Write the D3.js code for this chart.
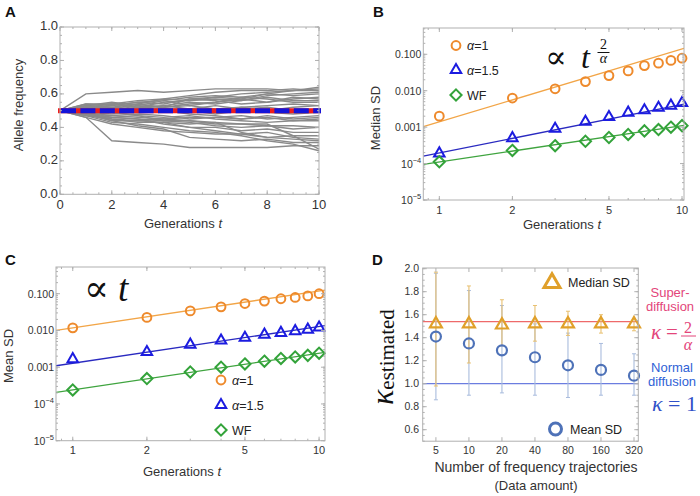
<!DOCTYPE html>
<html><head><meta charset="utf-8">
<script src="https://cdn.jsdelivr.net/npm/d3@7"></script>
<style>body{margin:0;background:#fff}svg{display:block}</style>
</head><body><svg id="c" width="700" height="496" font-family="Liberation Sans, Arial, sans-serif"></svg>
<script>
// ---------- DATA ----------
const generations = [0,1,2,3,4,5,6,7,8,9,10];
const trajectories = [
 [0.5,0.60,0.61,0.62,0.61,0.62,0.63,0.63,0.63,0.62,0.62],
 [0.5,0.46,0.32,0.31,0.30,0.28,0.28,0.28,0.28,0.29,0.29],
 [0.5,0.54,0.53,0.55,0.56,0.58,0.59,0.58,0.60,0.62,0.64],
 [0.5,0.52,0.51,0.54,0.57,0.56,0.58,0.60,0.61,0.62,0.63],
 [0.5,0.48,0.47,0.46,0.45,0.44,0.42,0.42,0.42,0.35,0.27],
 [0.5,0.47,0.43,0.42,0.40,0.38,0.37,0.35,0.32,0.30,0.26],
 [0.5,0.53,0.54,0.52,0.55,0.56,0.57,0.56,0.59,0.60,0.61],
 [0.5,0.51,0.50,0.53,0.52,0.54,0.55,0.57,0.55,0.57,0.58],
 [0.5,0.49,0.48,0.49,0.50,0.48,0.47,0.45,0.46,0.44,0.45],
 [0.5,0.48,0.46,0.45,0.42,0.40,0.38,0.36,0.37,0.34,0.33],
 [0.5,0.52,0.52,0.51,0.53,0.55,0.54,0.56,0.58,0.56,0.56],
 [0.5,0.49,0.51,0.50,0.52,0.53,0.51,0.52,0.50,0.52,0.53],
 [0.5,0.47,0.45,0.44,0.43,0.42,0.43,0.42,0.41,0.41,0.40],
 [0.5,0.51,0.53,0.55,0.54,0.57,0.58,0.57,0.60,0.59,0.60],
 [0.5,0.48,0.44,0.41,0.39,0.34,0.33,0.32,0.33,0.31,0.31],
 [0.5,0.50,0.49,0.47,0.46,0.47,0.45,0.44,0.43,0.44,0.44],
 [0.5,0.52,0.50,0.51,0.49,0.50,0.48,0.50,0.49,0.48,0.49],
 [0.5,0.49,0.47,0.48,0.47,0.45,0.46,0.47,0.45,0.46,0.47],
 [0.5,0.53,0.55,0.53,0.56,0.53,0.55,0.58,0.57,0.55,0.55],
 [0.5,0.48,0.45,0.43,0.43,0.40,0.40,0.38,0.39,0.37,0.37],
 [0.5,0.46,0.42,0.40,0.38,0.37,0.36,0.36,0.34,0.35,0.35],
 [0.5,0.51,0.50,0.52,0.51,0.51,0.53,0.51,0.52,0.50,0.51],
 [0.5,0.53,0.52,0.54,0.52,0.57,0.56,0.54,0.55,0.58,0.57],
 [0.5,0.49,0.46,0.47,0.44,0.43,0.41,0.40,0.41,0.39,0.40],
 [0.5,0.54,0.54,0.56,0.57,0.59,0.61,0.62,0.62,0.63,0.62],
 [0.5,0.47,0.46,0.45,0.44,0.44,0.43,0.37,0.34,0.33,0.32],
 [0.5,0.48,0.44,0.44,0.45,0.46,0.46,0.45,0.47,0.45,0.46],
 [0.5,0.52,0.54,0.52,0.53,0.51,0.49,0.52,0.53,0.54,0.53]
];
const meanFrequency = 0.5;

const genT = [1,2,3,4,5,6,7,8,9,10];
const seriesNames = ["α=1","α=1.5","WF"];
const medianAlpha1  = [0.0020,0.0063,0.0113,0.0178,0.026,0.035,0.049,0.057,0.068,0.078];
const medianAlpha15 = [0.00019,0.0005,0.0009,0.0014,0.0019,0.0025,0.0029,0.0034,0.0039,0.0046];
const medianWF      = [0.000112,0.00023,0.00031,0.00041,0.00052,0.00063,0.00079,0.00086,0.0010,0.0011];
const medianFitCoef = [0.0014,0.000195,0.00011];
const medianFitExp  = [2,1.333,1];

const meanAlpha1  = [0.0118,0.0226,0.034,0.044,0.054,0.063,0.073,0.079,0.087,0.10];
const meanAlpha15 = [0.00166,0.0026,0.0041,0.0053,0.0063,0.0077,0.0086,0.0096,0.0105,0.012];
const meanWF      = [0.00024,0.00049,0.00074,0.0010,0.00123,0.00146,0.00173,0.0019,0.0021,0.0024];
const meanFitCoef = [0.0118,0.00128,0.00024];
const meanFitExp  = [1,1,1];

const logYTickLabels = ["10^-5","10^-4","0.001","0.010","0.100"];
const logYTickValues = [1e-5,1e-4,1e-3,1e-2,1e-1];
const logXTickValues = [1,2,5,10];

const trajCounts = [5,10,20,40,80,160,320];
const kappaMedian = [1.52,1.52,1.51,1.52,1.52,1.52,1.52];
const kappaMedianLo = [0.98,1.18,1.33,1.37,1.42,1.44,1.46];
const kappaMedianHi = [1.97,1.85,1.73,1.68,1.63,1.60,1.56];
const kappaMean = [1.41,1.35,1.29,1.23,1.16,1.12,1.07];
const kappaMeanLo = [0.86,0.90,0.92,0.90,0.88,0.90,0.90];
const kappaMeanHi = [1.96,1.81,1.68,1.52,1.44,1.35,1.26];
const kappaSuper = 1.54;
const kappaNormal = 1.0;

// ---------- HELPERS ----------
const svg = d3.select("#c");
const FR = "#b0b0b0", TXT = "#333";
const ORANGE="#EE8A2C", BLUE="#1C1CE0", GREEN="#33A33A";
const ORANGE_L="#F2A547", BLUE_L="#2A2AC0", GREEN_L="#3FA43F";
const SERIF="Liberation Serif, DejaVu Serif, serif";

function frame(g,x,y){
  const [L,R]=x.range(), [B,T]=y.range();
  g.append("rect").attr("x",L).attr("y",T).attr("width",R-L).attr("height",B-T)
   .attr("fill","none").attr("stroke",FR).attr("stroke-width",1);
}
function xTicks(g,x,y,vals,len){
  const [B,T]=y.range();
  vals.forEach(v=>{const px=x(v);
    g.append("line").attr("x1",px).attr("x2",px).attr("y1",B).attr("y2",B-len).attr("stroke",FR);
    g.append("line").attr("x1",px).attr("x2",px).attr("y1",T).attr("y2",T+len).attr("stroke",FR);});
}
function yTicks(g,x,y,vals,len){
  const [L,R]=x.range();
  vals.forEach(v=>{const py=y(v);
    g.append("line").attr("x1",L).attr("x2",L+len).attr("y1",py).attr("y2",py).attr("stroke",FR);
    g.append("line").attr("x1",R).attr("x2",R-len).attr("y1",py).attr("y2",py).attr("stroke",FR);});
}
function triPath(cx,cy,s){const h=s*Math.sqrt(3)/2;
  return `M${cx},${cy-2*h/3}L${cx+s/2},${cy+h/3}L${cx-s/2},${cy+h/3}Z`;}
function diaPath(cx,cy,r){return `M${cx},${cy-r}L${cx+r},${cy}L${cx},${cy+r}L${cx-r},${cy}Z`;}
function panelLabel(t,x,y){svg.append("text").attr("x",x).attr("y",y).attr("font-size",15)
  .attr("font-weight","bold").attr("fill","#111").text(t);}
function genLabel(g,cx,by,size){
  const t=g.append("text").attr("x",cx).attr("y",by).attr("text-anchor","middle")
   .attr("font-size",size).attr("fill",TXT);
  t.append("tspan").text("Generations ");
  t.append("tspan").attr("font-style","italic").text("t");
}
function yTitle(g,cx,cy,txt,size){
  g.append("text").attr("transform",`translate(${cx},${cy}) rotate(-90)`).attr("text-anchor","middle")
   .attr("dominant-baseline","middle").attr("font-size",size).attr("fill",TXT).text(txt);
}

// ---------- PANEL A ----------
{
 const g=svg.append("g");
 const x=d3.scaleLinear().domain([0,10]).range([60,319]);
 const y=d3.scaleLinear().domain([0,1]).range([194.3,27]);
 const line=d3.line().x((d,i)=>x(generations[i])).y(d=>y(d));
 trajectories.forEach(tr=>g.append("path").attr("d",line(tr)).attr("fill","none")
   .attr("stroke","#8a8a8a").attr("stroke-width",1.4));
 g.append("line").attr("x1",x(0)-2).attr("x2",x(10)+2).attr("y1",y(meanFrequency)).attr("y2",y(meanFrequency))
  .attr("stroke","#ee1c1c").attr("stroke-width",5);
 g.append("line").attr("x1",x(0)+1).attr("x2",x(10)+2).attr("y1",y(meanFrequency)).attr("y2",y(meanFrequency))
  .attr("stroke","#1414d8").attr("stroke-width",5).attr("stroke-dasharray","15 4.4");
 frame(g,x,y);
 xTicks(g,x,y,d3.range(0,10.01,0.5),2);
 xTicks(g,x,y,d3.range(0,10.01,2),4);
 yTicks(g,x,y,d3.range(0,1.001,0.05),2);
 yTicks(g,x,y,d3.range(0,1.001,0.2),4);
 d3.range(0,10.01,2).forEach(v=>g.append("text").attr("x",x(v)).attr("y",208.5).attr("text-anchor","middle")
   .attr("font-size",13).attr("fill",TXT).text(v));
 d3.range(0,1.001,0.2).forEach(v=>g.append("text").attr("x",58).attr("y",y(v)).attr("text-anchor","end")
   .attr("dominant-baseline","middle").attr("font-size",13).attr("fill",TXT).text(v.toFixed(1)));
 genLabel(g,183,227.5,13);
 yTitle(g,20,105,"Allele frequency",13);
 panelLabel("A",5,17);
}

// ---------- LOG PANELS ----------
function logPanel(opt){
 const g=svg.append("g");
 const x=d3.scaleLog().domain(opt.xd).range(opt.xr);
 const y=d3.scaleLog().domain(opt.yd).range(opt.yr);
 g.append("clipPath").attr("id",opt.id).append("rect").attr("x",opt.xr[0]).attr("y",opt.yr[1])
  .attr("width",opt.xr[1]-opt.xr[0]).attr("height",opt.yr[0]-opt.yr[1]);
 const lcols=[ORANGE_L,BLUE_L,GREEN_L];
 opt.coef.forEach((c,i)=>{
   const f=t=>c*Math.pow(t,opt.exp[i]);
   const t0=opt.xd[0], t1=opt.xd[1];
   g.append("line").attr("clip-path",`url(#${opt.id})`).attr("x1",x(t0)).attr("y1",y(f(t0)))
    .attr("x2",x(t1)).attr("y2",y(f(t1))).attr("stroke",lcols[i]).attr("stroke-width",1.3);
 });
 opt.series[0].forEach((v,i)=>g.append("circle").attr("cx",x(genT[i])).attr("cy",y(v)).attr("r",4.4)
   .attr("fill","none").attr("stroke",ORANGE).attr("stroke-width",2));
 opt.series[1].forEach((v,i)=>g.append("path").attr("d",triPath(x(genT[i]),y(v),10.5))
   .attr("fill","none").attr("stroke",BLUE).attr("stroke-width",2));
 opt.series[2].forEach((v,i)=>g.append("path").attr("d",diaPath(x(genT[i]),y(v),5.6))
   .attr("fill","none").attr("stroke",GREEN).attr("stroke-width",2));
 frame(g,x,y);
 const minorX=[0.9,1,2,3,4,5,6,7,8,9,10];
 xTicks(g,x,y,minorX,2); xTicks(g,x,y,logXTickValues,4);
 const minorY=[];[1e-5,1e-4,1e-3,1e-2,1e-1].forEach(d=>{for(let k=1;k<10;k++){const v=d*k;if(v<=opt.yd[1])minorY.push(v);}});
 yTicks(g,x,y,minorY,2); yTicks(g,x,y,logYTickValues,4);
 logXTickValues.forEach(v=>g.append("text").attr("x",x(v)).attr("y",opt.xlabY).attr("text-anchor","middle")
   .attr("font-size",11).attr("fill",TXT).text(v));
 logYTickValues.forEach((v,i)=>{
   const lab=logYTickLabels[i];
   const t=g.append("text").attr("x",opt.xr[0]-2).attr("y",y(v)+4).attr("text-anchor","end")
     .attr("font-size",10.5).attr("fill",TXT);
   if(lab.startsWith("10^")){t.append("tspan").text("10");
     t.append("tspan").attr("dy",-5).attr("font-size",7.5).text("−"+lab.split("^-")[1]);}
   else t.text(lab);
 });
 return {g,x,y};
}
function legend(g,x0,ys){
 const marks=[
  (cx,cy)=>g.append("circle").attr("cx",cx).attr("cy",cy).attr("r",4.4).attr("fill","none").attr("stroke",ORANGE).attr("stroke-width",2),
  (cx,cy)=>g.append("path").attr("d",triPath(cx,cy,10.5)).attr("fill","none").attr("stroke",BLUE).attr("stroke-width",2),
  (cx,cy)=>g.append("path").attr("d",diaPath(cx,cy,5.6)).attr("fill","none").attr("stroke",GREEN).attr("stroke-width",2)];
 seriesNames.forEach((n,i)=>{
  marks[i](x0,ys[i]);
  const t=g.append("text").attr("x",x0+11).attr("y",ys[i]+4.5).attr("font-size",12.5).attr("fill","#222");
  if(n.startsWith("α")){t.append("tspan").attr("font-style","italic").text("α");t.append("tspan").text(n.slice(1));}
  else t.text(n);
 });
}

// PANEL B
{
 const p=logPanel({id:"cb",xd:[0.859,10.19],xr:[423.3,684],yd:[1e-5,0.527],yr:[200,28],
   coef:medianFitCoef,exp:medianFitExp,series:[medianAlpha1,medianAlpha15,medianWF],xlabY:213.5});
 legend(p.g,456,[45.5,70,95]);
 const g=p.g;
 g.append("text").attr("x",545).attr("y",68).attr("font-family",SERIF).attr("font-size",32).attr("fill","#111").text("∝");
 g.append("text").attr("x",581).attr("y",68).attr("font-family",SERIF).attr("font-style","italic").attr("font-size",32).attr("fill","#111").text("t");
 g.append("text").attr("x",603.5).attr("y",49).attr("text-anchor","middle").attr("font-family",SERIF).attr("font-size",14).attr("fill","#111").text("2");
 g.append("line").attr("x1",597.5).attr("x2",609.5).attr("y1",52.5).attr("y2",52.5).attr("stroke","#111").attr("stroke-width",1);
 g.append("text").attr("x",603.5).attr("y",63).attr("text-anchor","middle").attr("font-family",SERIF).attr("font-style","italic").attr("font-size",14).attr("fill","#111").text("α");
 genLabel(g,562,229,13);
 yTitle(g,377,118,"Median SD",13);
 panelLabel("B",373,17);
}
// PANEL C
{
 const p=logPanel({id:"cc",xd:[0.855,10.57],xr:[56,325],yd:[1e-5,0.533],yr:[440.7,267],
   coef:meanFitCoef,exp:meanFitExp,series:[meanAlpha1,meanAlpha15,meanWF],xlabY:453.5});
 legend(p.g,221,[380,405,430]);
 const g=p.g;
 g.append("text").attr("x",84).attr("y",301).attr("font-family",SERIF).attr("font-size",37).attr("fill","#111").text("∝");
 g.append("text").attr("x",118).attr("y",301).attr("font-family",SERIF).attr("font-style","italic").attr("font-size",37).attr("fill","#111").text("t");
 genLabel(g,182,476,13);
 yTitle(g,10,356,"Mean SD",13);
 panelLabel("C",5,265);
}

// ---------- PANEL D ----------
{
 const g=svg.append("g");
 const x=d3.scaleLog().base(2).domain([5*Math.pow(2,-0.4),320*Math.pow(2,0.13)]).range([422.7,638.3]);
 const y=d3.scaleLinear().domain([0.5,2.006]).range([441.2,268]);
 const [L,R]=x.range();
 g.append("line").attr("x1",L).attr("x2",R).attr("y1",y(kappaSuper)).attr("y2",y(kappaSuper)).attr("stroke","#EE6A6A").attr("stroke-width",1.2);
 g.append("line").attr("x1",L).attr("x2",R).attr("y1",y(kappaNormal)).attr("y2",y(kappaNormal)).attr("stroke","#6B7DE0").attr("stroke-width",1.2);
 function ebar(xs,lo,hi,col){
  xs.forEach((c,i)=>{const px=x(c);
   g.append("line").attr("x1",px).attr("x2",px).attr("y1",y(lo[i])).attr("y2",y(hi[i])).attr("stroke",col).attr("stroke-width",1.1);
   [lo[i],hi[i]].forEach(v=>g.append("line").attr("x1",px-2).attr("x2",px+2).attr("y1",y(v)).attr("y2",y(v)).attr("stroke",col).attr("stroke-width",1));
  });
 }
 ebar(trajCounts,kappaMeanLo,kappaMeanHi,"#A9BCDD");
 ebar(trajCounts,kappaMedianLo,kappaMedianHi,"#E8C070");
 kappaMean.forEach((v,i)=>g.append("circle").attr("cx",x(trajCounts[i])).attr("cy",y(v)).attr("r",5)
   .attr("fill","none").attr("stroke","#4E72B8").attr("stroke-width",2.2));
 kappaMedian.forEach((v,i)=>g.append("path").attr("d",triPath(x(trajCounts[i]),y(v),12))
   .attr("fill","none").attr("stroke","#E0A02A").attr("stroke-width",2.2));
 frame(g,x,y);
 xTicks(g,x,y,trajCounts,4);
 yTicks(g,x,y,d3.range(0.5,2.001,0.05),2);
 yTicks(g,x,y,d3.range(0.6,2.001,0.2),4);
 trajCounts.forEach(v=>g.append("text").attr("x",x(v)).attr("y",454).attr("text-anchor","middle")
   .attr("font-size",10.5).attr("fill",TXT).text(v));
 d3.range(0.6,2.001,0.2).forEach(v=>g.append("text").attr("x",419).attr("y",y(v)+3.8).attr("text-anchor","end")
   .attr("font-size",10.5).attr("fill",TXT).text(v.toFixed(1)));
 // legend
 g.append("path").attr("d",triPath(552,283,16)).attr("fill","none").attr("stroke","#E0A02A").attr("stroke-width",3);
 g.append("text").attr("x",568).attr("y",287).attr("font-size",12.5).attr("fill","#222").text("Median SD");
 g.append("circle").attr("cx",555.5).attr("cy",429).attr("r",6).attr("fill","none").attr("stroke","#4E72B8").attr("stroke-width",3);
 g.append("text").attr("x",570).attr("y",433.5).attr("font-size",12.5).attr("fill","#222").text("Mean SD");
 // axis titles
 g.append("text").attr("x",536).attr("y",471.5).attr("text-anchor","middle").attr("font-size",14).attr("fill",TXT).text("Number of frequency trajectories");
 g.append("text").attr("x",536).attr("y",490).attr("text-anchor","middle").attr("font-size",13).attr("fill",TXT).text("(Data amount)");
 const yl=g.append("text").attr("transform","translate(393,405) rotate(-90)").attr("font-family",SERIF).attr("fill","#111");
 yl.append("tspan").attr("font-style","italic").attr("font-size",32).text("κ");
 yl.append("tspan").attr("font-size",21).attr("dy",1).text("estimated");
 // annotations
 const PINK="#E3457A", NB="#2F62D6";
 g.append("text").attr("x",670).attr("y",297).attr("text-anchor","middle").attr("font-size",13).attr("fill",PINK).text("Super-");
 g.append("text").attr("x",670).attr("y",310.5).attr("text-anchor","middle").attr("font-size",13).attr("fill",PINK).text("diffusion");
 g.append("text").attr("x",651).attr("y",339).attr("font-family",SERIF).attr("font-style","italic").attr("font-size",21).attr("fill",PINK).text("κ");
 g.append("text").attr("x",666).attr("y",339).attr("font-family",SERIF).attr("font-size",21).attr("fill",PINK).text("=");
 g.append("text").attr("x",688).attr("y",332.5).attr("text-anchor","middle").attr("font-family",SERIF).attr("font-size",16).attr("fill",PINK).text("2");
 g.append("line").attr("x1",681).attr("x2",696).attr("y1",336).attr("y2",336).attr("stroke",PINK).attr("stroke-width",1);
 g.append("text").attr("x",688).attr("y",349.5).attr("text-anchor","middle").attr("font-family",SERIF).attr("font-style","italic").attr("font-size",16).attr("fill",PINK).text("α");
 g.append("text").attr("x",672).attr("y",372).attr("text-anchor","middle").attr("font-size",13).attr("fill",NB).text("Normal");
 g.append("text").attr("x",672).attr("y",386).attr("text-anchor","middle").attr("font-size",13).attr("fill",NB).text("diffusion");
 const k1=g.append("text").attr("x",652).attr("y",411).attr("font-family",SERIF).attr("font-size",22).attr("fill","#2F50C8");
 k1.append("tspan").attr("font-style","italic").text("κ");
 k1.append("tspan").text(" = 1");
 panelLabel("D",372,265);
}
</script></body></html>
